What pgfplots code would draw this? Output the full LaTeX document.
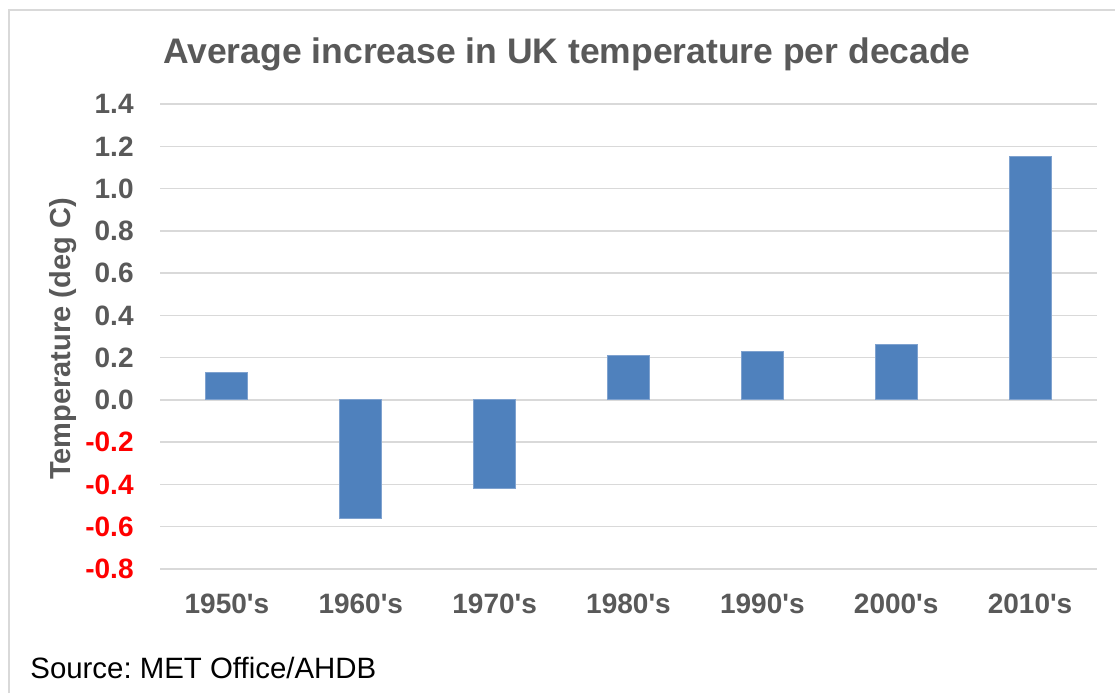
\documentclass[border=0pt]{standalone}
\usepackage{pgfplots}
\pgfplotsset{compat=1.18}
\usepackage{fontspec}
\setmainfont{Liberation Sans}
\frenchspacing
\definecolor{textgray}{HTML}{595959}
\definecolor{gridgray}{HTML}{D9D9D9}
\definecolor{bordergray}{HTML}{D9D9D9}
\definecolor{barblue}{HTML}{4F81BD}
\definecolor{baredge}{HTML}{7FA2CF}
\definecolor{negred}{HTML}{FF0000}
\begin{document}
\begin{tikzpicture}
\useasboundingbox (0,0) rectangle (557.5pt,-346.5pt);
\fill[white] (0,0) rectangle (557.5pt,-346.5pt);
\draw[bordergray, line width=1pt] (4.6pt,-346.5pt) -- (4.6pt,-4.9pt) -- (557.5pt,-4.9pt);
\begin{axis}[
  at={(80pt,-284.5pt)}, anchor=south west,
  scale only axis, width=468.5pt, height=232.5pt,
  xmin=-0.5, xmax=6.5, ymin=-0.8, ymax=1.4,
  ybar, bar width=21pt,
  axis line style={draw=none},
  major tick length=0pt,
  ymajorgrids, grid style={gridgray, line width=0.75pt},
  xtick={0,1,2,3,4,5,6},
  xticklabels={1950\textquotesingle s,1960\textquotesingle s,1970\textquotesingle s,1980\textquotesingle s,1990\textquotesingle s,2000\textquotesingle s,2010\textquotesingle s},
  ytick={-0.8,-0.6,-0.4,-0.2,0,0.2,0.4,0.6,0.8,1.0,1.2,1.4},
  yticklabels={\textcolor{negred}{-0.8},\textcolor{negred}{-0.6},\textcolor{negred}{-0.4},\textcolor{negred}{-0.2},0.0,0.2,0.4,0.6,0.8,1.0,1.2,1.4},
  ticklabel style={font=\bfseries\fontsize{14}{16}\selectfont, text=textgray},
  xticklabel style={anchor=base, yshift=-22pt},
  yticklabel style={anchor=east, inner sep=0pt, xshift=-13pt},
  clip=false,
]
\addplot[fill=barblue, draw=baredge, line width=0.5pt] coordinates {(0,0.13) (1,-0.56) (2,-0.42) (3,0.21) (4,0.23) (5,0.26) (6,1.15)};
\end{axis}
\node[anchor=base, font=\bfseries\fontsize{17.75}{20}\selectfont, text=textgray] at (283.5pt,-31.7pt) {Average increase in UK temperature per decade};
\node[anchor=base, rotate=90, font=\bfseries\fontsize{14.5}{16}\selectfont, text=textgray] at (35pt,-169.5pt) {Temperature (deg C)};
\node[anchor=base west, inner sep=0pt, font=\fontsize{14.7}{16}\selectfont, text=black] at (15pt,-339pt) {Source: MET Office/AHDB};
\end{tikzpicture}
\end{document}
